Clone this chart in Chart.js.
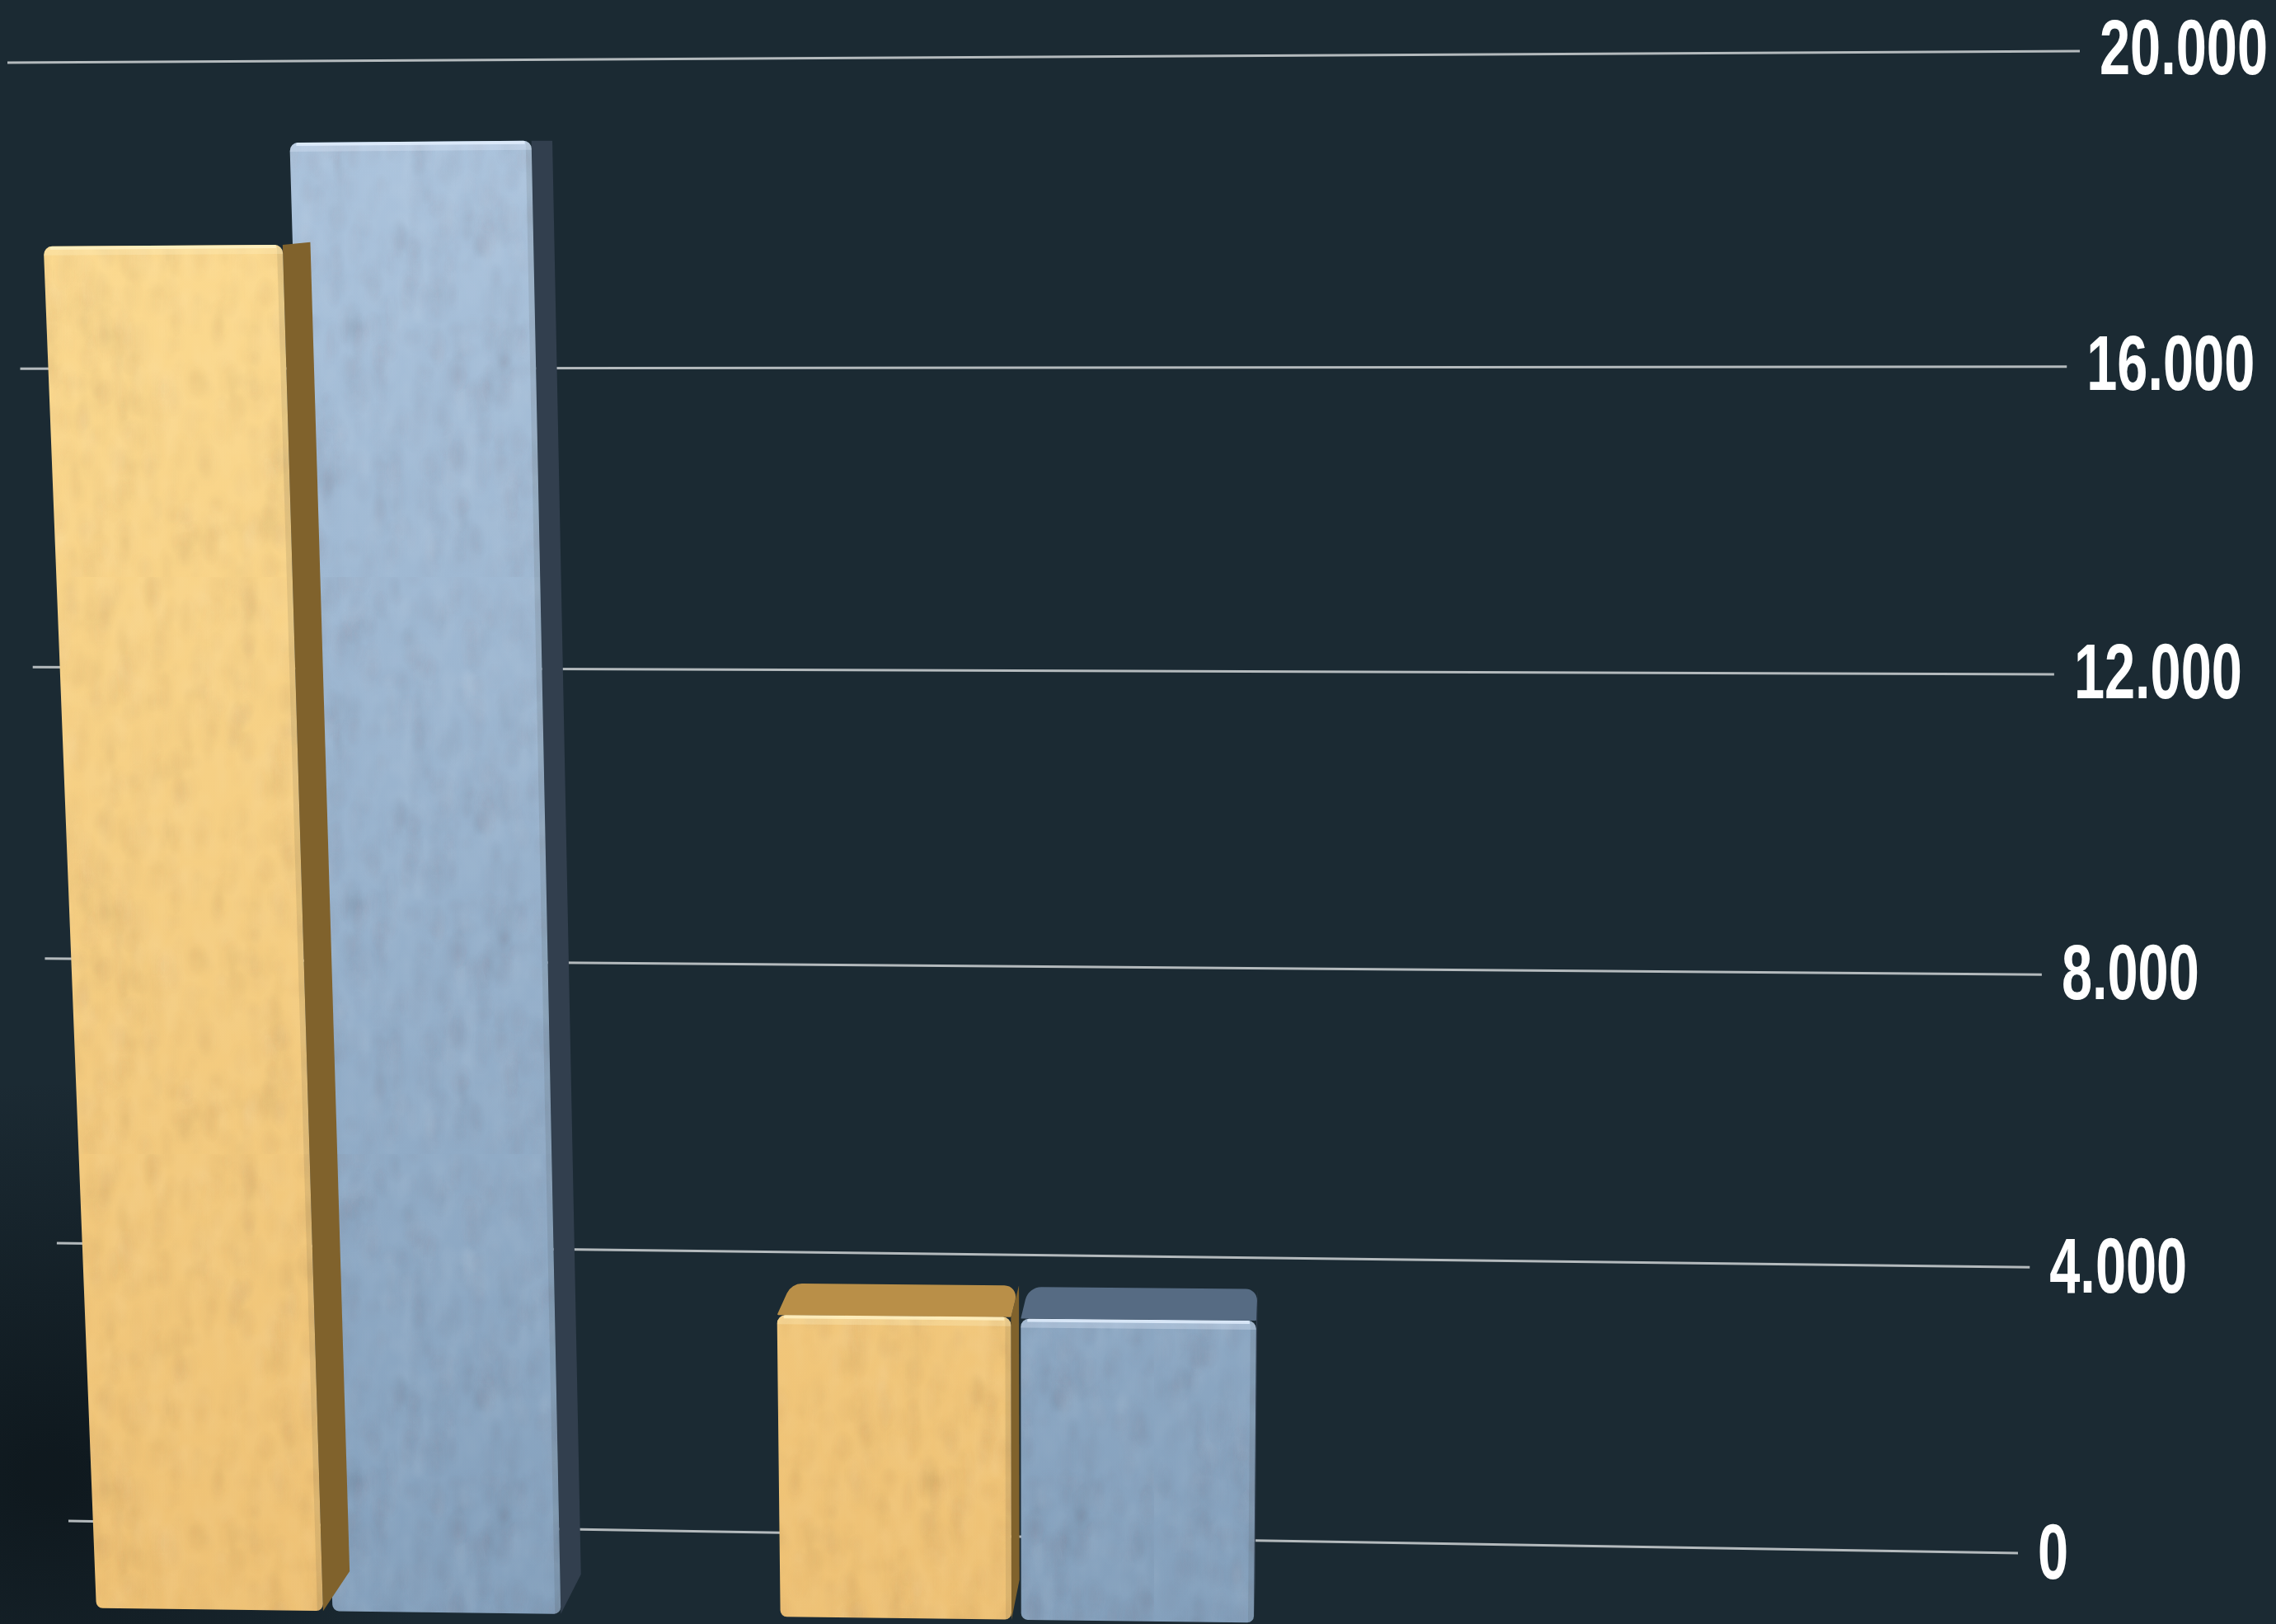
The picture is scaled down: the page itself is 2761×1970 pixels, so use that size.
<!DOCTYPE html>
<html>
<head>
<meta charset="utf-8">
<title>Bars</title>
<script src="https://cdn.jsdelivr.net/npm/chart.js@4"></script>
<style>
	html, body { margin: 0; padding: 0; background: #1b2a33; }
	canvas { display: block; }
</style>
</head>
<body>
<canvas id="chart" width="2761" height="1970"></canvas>
<script>
// values
var categories = ['', '', ''];
var seriesYellow = [17700, 4050, null];
var seriesBlue = [18950, 4030, null];
var tickLabels = ['0', '4.000', '8.000', '12.000', '16.000', '20.000'];
var yMax = 20000;
var yStep = 4000;

// where the flat plot corners land on screen: TL, TR, BR, BL
var wallCorners = [[9, 76], [2523, 62], [2448, 1884], [83, 1845]];
var frontCorners = [[-95, 72], [2596, 48], [2516, 1981], [-14, 1949]];
// bar depth runs towards this vanishing point
var vanish = [1585, 176];
var depth = 0.027;

function squareToQuad(q) {
	var x0 = q[0][0], y0 = q[0][1], x1 = q[1][0], y1 = q[1][1];
	var x2 = q[2][0], y2 = q[2][1], x3 = q[3][0], y3 = q[3][1];
	var dx1 = x1 - x2, dx2 = x3 - x2, dx3 = x0 - x1 + x2 - x3;
	var dy1 = y1 - y2, dy2 = y3 - y2, dy3 = y0 - y1 + y2 - y3;
	var den = dx1 * dy2 - dx2 * dy1;
	var g = (dx3 * dy2 - dx2 * dy3) / den;
	var h = (dx1 * dy3 - dx3 * dy1) / den;
	return [x1 - x0 + g * x1, x3 - x0 + h * x3, x0, y1 - y0 + g * y1, y3 - y0 + h * y3, y0, g, h];
}

function projector(chart, quad) {
	var m = squareToQuad(quad), a = chart.chartArea;
	return function(px, py) {
		var u = (px - a.left) / (a.right - a.left), v = (py - a.top) / (a.bottom - a.top);
		var w = m[6] * u + m[7] * v + 1;
		return [(m[0] * u + m[1] * v + m[2]) / w, (m[3] * u + m[4] * v + m[5]) / w];
	};
}

function roundedPath(ctx, pts, radii) {
	var n = pts.length, last = pts[n - 1], first = pts[0];
	ctx.beginPath();
	ctx.moveTo((last[0] + first[0]) / 2, (last[1] + first[1]) / 2);
	pts.forEach(function(p, i) {
		var next = pts[(i + 1) % n];
		ctx.arcTo(p[0], p[1], next[0], next[1], radii[i]);
	});
	ctx.closePath();
}

function plainPath(ctx, pts) {
	ctx.beginPath();
	pts.forEach(function(p, i) {
		if (i) ctx.lineTo(p[0], p[1]); else ctx.moveTo(p[0], p[1]);
	});
	ctx.closePath();
}

// mottled surface, a small tile of soft streaks
function makeGrain(ctx) {
	var tile = document.createElement('canvas');
	tile.width = tile.height = 700;
	var t = tile.getContext('2d'), i, seed = 7;
	function next() {
		seed = (seed * 16807) % 2147483647;
		return seed / 2147483647;
	}
	t.filter = 'blur(4px)';
	for (i = 0; i < 2600; i++) {
		t.fillStyle = next() > 0.5 ? 'rgba(255,255,255,0.025)' : 'rgba(70,60,50,0.025)';
		t.beginPath();
		t.ellipse(next() * 700, next() * 700, 3 + next() * 8, 8 + next() * 20, 0, 0, Math.PI * 2);
		t.fill();
	}
	return ctx.createPattern(tile, 'repeat');
}

var looks = [
	{ top: '#fcdb91', bottom: '#eec174', lid: '#b98f48', side: '#80622c', shine: '#fff3c4' },
	{ top: '#abc3dc', bottom: '#84a0bc', lid: '#566b83', side: '#323f4e', shine: '#e4f0ff' }
];
var grain = null;

function paintBars(chart, index) {
	var ctx = chart.ctx, meta = chart.getDatasetMeta(index), look = looks[index];
	var values = chart.data.datasets[index].data;
	var front = projector(chart, frontCorners);
	function back(p) {
		return [p[0] + (vanish[0] - p[0]) * depth, p[1] + (vanish[1] - p[1]) * depth];
	}
	var face = ctx.createLinearGradient(0, 170, 0, 1970);
	face.addColorStop(0, look.top);
	face.addColorStop(1, look.bottom);
	if (!grain) grain = makeGrain(ctx);

	meta.data.forEach(function(bar, i) {
		if (values[i] === null) return;
		var l = bar.x - bar.width / 2, r = bar.x + bar.width / 2;
		var tl = front(l, bar.y), tr = front(r, bar.y), br = front(r, bar.base), bl = front(l, bar.base);
		var btl = back(tl), btr = back(tr), bbr = back(br);

		ctx.save();
		plainPath(ctx, [tr, btr, bbr, br]);
		ctx.fillStyle = look.side;
		ctx.fill();
		// the lid only shows on the short bars
		if (tl[1] - btl[1] > 12) {
			roundedPath(ctx, [tl, tr, btr, btl], [1, 1, 14, 20]);
			ctx.fillStyle = look.lid;
			ctx.fill();
		}

		roundedPath(ctx, [tl, tr, br, bl], [10, 10, 8, 8]);
		ctx.fillStyle = face;
		ctx.fill();
		ctx.fillStyle = grain;
		ctx.fill();

		// soft edge shading and the bright top bevel
		ctx.clip();
		ctx.strokeStyle = 'rgba(50,45,40,0.10)';
		ctx.lineWidth = 14;
		ctx.beginPath();
		ctx.moveTo(tr[0], tr[1]);
		ctx.lineTo(br[0], br[1]);
		ctx.stroke();
		ctx.strokeStyle = look.shine;
		ctx.globalAlpha = 0.3;
		ctx.lineWidth = 22;
		ctx.beginPath();
		ctx.moveTo(tl[0], tl[1]);
		ctx.lineTo(tr[0], tr[1]);
		ctx.stroke();
		ctx.globalAlpha = 0.8;
		ctx.lineWidth = 4;
		ctx.beginPath();
		ctx.moveTo(tl[0] + 8, tl[1] + 2);
		ctx.lineTo(tr[0] - 8, tr[1] + 2);
		ctx.stroke();
		ctx.restore();
	});
}

var scenePlugin = {
	id: 'scene',
	beforeDraw: function(chart) {
		var ctx = chart.ctx;
		ctx.fillStyle = '#1b2a33';
		ctx.fillRect(0, 0, chart.width, chart.height);
		var shade = ctx.createRadialGradient(60, 1790, 30, 60, 1790, 480);
		shade.addColorStop(0, 'rgba(13,22,27,0.85)');
		shade.addColorStop(1, 'rgba(13,22,27,0)');
		ctx.fillStyle = shade;
		ctx.fillRect(0, 1200, 900, 770);
	},
	beforeDatasetsDraw: function(chart) {
		var ctx = chart.ctx, yScale = chart.scales.y, a = chart.chartArea;
		var wall = projector(chart, wallCorners);
		var font = 'bold 94px "Liberation Sans Narrow", "Liberation Sans"';
		ctx.save();
		ctx.font = font;
		var squeeze = 204 / ctx.measureText('20.000').width;
		yScale.ticks.forEach(function(tick, i) {
			var py = yScale.getPixelForValue(tick.value);
			var p0 = wall(a.left, py), p1 = wall(a.right, py);
			ctx.strokeStyle = '#b4babd';
			ctx.lineWidth = 3;
			ctx.beginPath();
			ctx.moveTo(p0[0], p0[1]);
			ctx.lineTo(p1[0], p1[1]);
			ctx.stroke();

			// upright condensed labels at the end of each line
			ctx.save();
			ctx.translate(p1[0] + 24, p1[1] + 5 - i * 0.6);
			ctx.scale(squeeze, 1);
			ctx.font = font;
			ctx.textAlign = 'left';
			ctx.textBaseline = 'middle';
			ctx.fillStyle = '#ffffff';
			ctx.fillText(tick.label, 0, 0);
			ctx.restore();
		});
		ctx.restore();
	},
	beforeDatasetDraw: function(chart, args) {
		paintBars(chart, args.index);
		return false;
	}
};

new Chart(document.getElementById('chart'), {
	type: 'bar',
	data: {
		labels: categories,
		datasets: [
			{ label: 'Yellow', data: seriesYellow, backgroundColor: '#f2c472' },
			{ label: 'Blue', data: seriesBlue, backgroundColor: '#8fa8c2' }
		]
	},
	options: {
		responsive: false,
		devicePixelRatio: 1,
		animation: false,
		layout: { padding: 100 },
		plugins: { legend: { display: false }, tooltip: { enabled: false } },
		datasets: { bar: { categoryPercentage: 0.695, barPercentage: 0.96 } },
		scales: {
			x: {
				grid: { display: false },
				border: { display: false },
				ticks: { display: false }
			},
			y: {
				position: 'right',
				min: 0,
				max: yMax,
				grid: { display: false },
				border: { display: false },
				ticks: {
					display: false,
					stepSize: yStep,
					callback: function(value, index) {
						return tickLabels[index];
					}
				}
			}
		}
	},
	plugins: [scenePlugin]
});
</script>
</body>
</html>
